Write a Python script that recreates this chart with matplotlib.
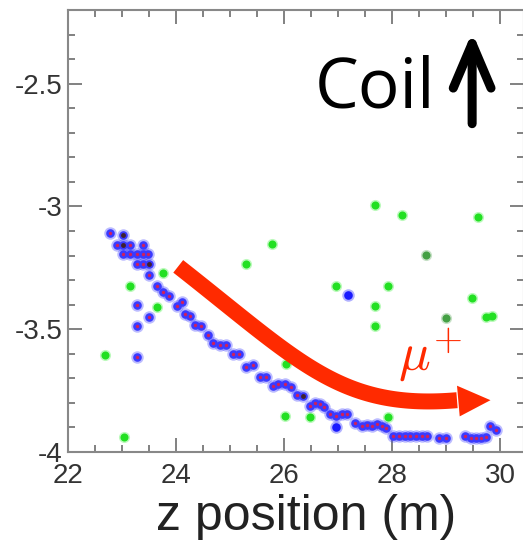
import numpy as np
import matplotlib.pyplot as plt
from matplotlib.patches import Polygon
from matplotlib.ticker import MultipleLocator

# hits on the muon track (blue with red centre)
track_z = [22.78, 23.02, 22.91, 23.02, 23.15, 23.39, 23.02, 23.15, 23.28, 23.39, 23.48,
           23.28, 23.39, 23.50, 23.50, 23.65, 23.76, 23.87, 24.11, 24.02,
           24.17, 24.26, 24.35, 24.46, 24.59, 24.69, 24.81, 24.93, 25.06, 25.17,
           25.30, 25.43, 25.56, 25.67, 25.80, 25.89, 26.02, 26.13, 26.24, 26.35,
           26.48, 26.57, 26.67, 26.74, 26.85, 26.96, 27.07, 27.17, 27.31, 27.44,
           27.54, 27.63, 27.72, 27.81, 27.89, 28.02, 28.13, 28.24, 28.33, 28.44,
           28.56, 28.65, 28.87, 29.00, 29.35, 29.46, 29.56, 29.65, 29.74, 29.81, 29.93,
           23.28, 23.50, 23.28, 23.28]
track_y = [-3.110, -3.118, -3.159, -3.159, -3.159, -3.159, -3.195, -3.195, -3.195, -3.195, -3.195,
           -3.236, -3.236, -3.236, -3.280, -3.325, -3.350, -3.366, -3.390, -3.407,
           -3.439, -3.447, -3.484, -3.488, -3.524, -3.557, -3.565, -3.565, -3.602, -3.602,
           -3.654, -3.646, -3.695, -3.695, -3.732, -3.724, -3.724, -3.736, -3.768, -3.772,
           -3.813, -3.801, -3.805, -3.817, -3.846, -3.854, -3.846, -3.846, -3.882, -3.894,
           -3.890, -3.894, -3.886, -3.894, -3.902, -3.935, -3.935, -3.935, -3.935, -3.935,
           -3.935, -3.935, -3.943, -3.943, -3.935, -3.943, -3.943, -3.943, -3.939, -3.894, -3.911,
           -3.402, -3.451, -3.488, -3.614]

# hits drawn with a dark centre
dark_z = [23.02, 23.02, 23.50, 26.35]
dark_y = [-3.118, -3.159, -3.236, -3.772]

# blue only hits
blue_z = [26.96, 27.19]
blue_y = [-3.898, -3.362]

# noise hits (green)
green_z = [22.69, 23.04, 23.15, 23.65, 23.76, 25.30, 25.78, 26.04, 26.02, 26.48,
           26.96, 27.93, 27.69, 28.19, 29.59, 27.69, 27.69, 27.93, 29.48, 29.74, 29.85]
green_y = [-3.606, -3.939, -3.325, -3.411, -3.272, -3.236, -3.154, -3.642, -3.854, -3.858,
           -3.325, -3.325, -2.996, -3.033, -3.041, -3.407, -3.488, -3.858, -3.374, -3.451, -3.447]
dkgreen_z = [28.63, 29.00]
dkgreen_y = [-3.199, -3.455]

xticks = [22, 24, 26, 28, 30]
yticks = [-4, -3.5, -3, -2.5]
ytick_labels = ['-4', '-3.5', '-3', '-2.5']

# bent muon arrow (bezier control points, data units)
bend = np.array([[24.04, -3.244], [26.30, -3.634], [27.04, -3.829], [29.20, -3.789]])
head = [[29.20, -3.730], [29.25, -3.855], [29.82, -3.789]]

plt.rcParams['font.family'] = ['Liberation Sans', 'DejaVu Sans']
plt.rcParams['mathtext.fontset'] = 'cm'
fig = plt.figure(figsize=(5.23, 5.43), dpi=100)
ax = fig.add_axes([68/523, 91/543, 456/523, 442/543])

ax.plot(green_z, green_y, 'o', ms=8, color='#22ee22', alpha=0.3, mec='none')
ax.plot(green_z, green_y, 'o', ms=5.8, color='#22e022', mec='none')
ax.plot(dkgreen_z, dkgreen_y, 'o', ms=8, color='#449944', alpha=0.3, mec='none')
ax.plot(dkgreen_z, dkgreen_y, 'o', ms=5.8, color='#44a044', mec='none')

ax.plot(track_z, track_y, 'o', ms=9, color='#4040ff', alpha=0.35, mec='none')
ax.plot(track_z, track_y, 'o', ms=6.2, color='#3a3aff', mec='none')
ax.plot(track_z, track_y, 'o', ms=2.4, color='#d0205a', mec='none')
ax.plot(dark_z, dark_y, 'o', ms=3.5, color='#402030', mec='none')
ax.plot(blue_z, blue_y, 'o', ms=9, color='#2020ff', alpha=0.35, mec='none')
ax.plot(blue_z, blue_y, 'o', ms=6.2, color='#1a1aff', mec='none')

t = np.linspace(0, 1, 100)[:, None]
curve = ((1-t)**3*bend[0] + 3*(1-t)**2*t*bend[1] + 3*(1-t)*t**2*bend[2] + t**3*bend[3])
ax.plot(curve[:, 0], curve[:, 1], color='#ff2a00', lw=11.5, solid_capstyle='butt')
ax.add_patch(Polygon(head, closed=True, color='#ff2a00', lw=0))

ax.text(26.57, -2.598, 'Coil', fontsize=50, family='Open Sans', color='black',
        ha='left', va='baseline')
ax.annotate('', xy=(29.48, -2.29), xytext=(29.48, -2.663),
            arrowprops=dict(arrowstyle='->,head_length=2.0,head_width=0.85', lw=6.5,
                            color='black', mutation_scale=16, shrinkA=0, shrinkB=0))
ax.text(28.11, -3.667, r'$\mu^{+}$', fontsize=38, color='#ff2a00', ha='left', va='baseline')

ax.set_xlim(22, 30.44)
ax.set_ylim(-4, -2.2)
ax.set_xticks(xticks)
ax.set_yticks(yticks)
ax.set_yticklabels(ytick_labels)
ax.xaxis.set_minor_locator(MultipleLocator(0.5))
ax.yaxis.set_minor_locator(MultipleLocator(0.1))
ax.tick_params(which='both', direction='in', top=True, right=True, color='#777777',
               width=1.3, labelsize=20, labelcolor='#333333')
ax.tick_params(which='major', length=10)
ax.tick_params(which='minor', length=5)
ax.tick_params(axis='x', pad=8)
ax.tick_params(axis='y', pad=4)
for s in ax.spines.values():
    s.set_color('#888888')
    s.set_linewidth(1.5)

ax.set_xlabel('z position (m)', fontsize=36, color='#222222')
ax.xaxis.set_label_coords(0.523, -0.095, transform=ax.transAxes)
ax.xaxis.label.set_va('top')

fig.savefig('out.png', dpi=100)
